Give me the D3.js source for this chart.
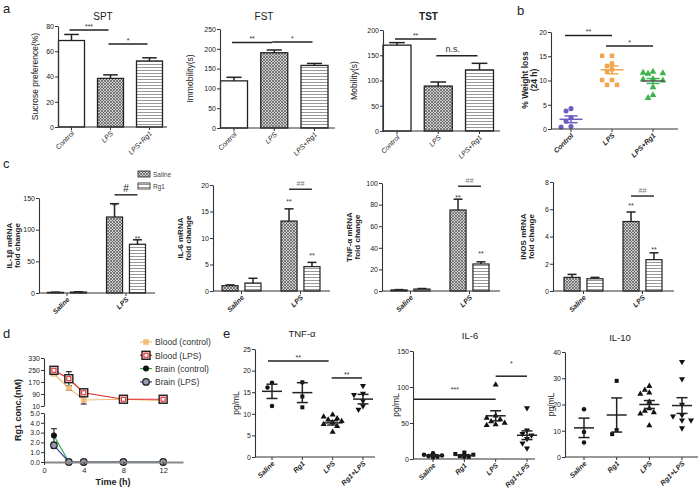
<!DOCTYPE html>
<html><head><meta charset="utf-8">
<script src="https://cdn.jsdelivr.net/npm/d3@7/dist/d3.min.js"></script>
<style>
body{margin:0;background:#fff}
svg{display:block}
</style></head>
<body>
<svg id="chart" width="700" height="496"></svg>
<script>
const FONT = "'Liberation Sans', Arial, Helvetica, sans-serif";

// ---------- Panel a data ----------
const aGroups = ["Control", "LPS", "LPS+Rg1"];
const sptMean = [68.5, 38.5, 52.3];
const sptErr  = [4.8, 2.8, 2.5];
const sptTicks = [0, 20, 40, 60, 80];
const fstMean = [119, 190, 158];
const fstErr  = [9, 7, 5];
const fstTicks = [0, 50, 100, 150, 200, 250];
const tstMean = [170, 89, 121];
const tstErr  = [5, 8, 13];
const tstTicks = [0, 50, 100, 150, 200];
const sptSig = [[0, 1, 76.8, "***"], [1, 2, 65.7, "*"]];
const fstSig = [[0, 1, 216, "**"], [1, 2, 217, "*"]];
const tstSig = [[0, 1, 182, "**"], [1, 2, 149, "n.s."]];

// ---------- Panel b data ----------
const wlControl = [4.2, 3.7, 2.3, 1.6, 0.5, 0.4];
const wlLPS = [15.1, 15.1, 13.5, 13.0, 12.3, 11.8, 10.1, 10.1, 9.1, 9.1];
const wlRg1 = [11.8, 11.6, 11.5, 11.4, 10.3, 10.2, 10.0, 8.6, 7.0, 6.4];
const wlMean = [2.0, 12.2, 9.9];
const wlSem = [0.7, 0.8, 0.5];
const wlTicks = [0, 5, 10, 15, 20];
const wlSig = [[0, 1, 19.3, "**"], [1, 2, 17.1, "*"]];

// ---------- Panel c data ----------
const cGroups = ["Saline", "LPS"];
const cSeries = ["Saline", "Rg1"];
const il1bSal = [1.0, 120], il1bSalErr = [0.3, 21];
const il1bRg1 = [1.5, 77],  il1bRg1Err = [0.4, 7];
const il6Sal  = [1.0, 13.2], il6SalErr = [0.15, 2.3];
const il6Rg1  = [1.5, 4.6],  il6Rg1Err = [0.9, 0.8];
const tnfSal  = [1.0, 75],   tnfSalErr = [0.3, 10];
const tnfRg1  = [1.8, 25],   tnfRg1Err = [0.5, 2];
const inosSal = [1.0, 5.1],  inosSalErr = [0.22, 0.7];
const inosRg1 = [0.9, 2.3],  inosRg1Err = [0.1, 0.5];
const il1bTicks = [0, 50, 100, 150];
const il6Ticks = [0, 5, 10, 15, 20];
const tnfTicks = [0, 20, 40, 60, 80, 100];
const inosTicks = [0, 2, 4, 6, 8];

// ---------- Panel d data ----------
const dTimes = [1, 2.5, 4, 8, 12];
const bloodCtrl = [225, 130, 50, 55, 45], bloodCtrlErr = [12, 15, 27, 8, 12];
const bloodLPS  = [248, 192, 98, 55, 55], bloodLPSErr  = [25, 47, 12, 10, 8];
const brainCtrl = [2.7, 0, 0, 0, 0], brainCtrlErr = [0.7, 0, 0, 0, 0];
const brainLPS  = [1.7, 0, 0, 0, 0], brainLPSErr  = [0.3, 0, 0, 0, 0];
const dUpperTicks = [10, 90, 170, 250, 330];
const dLowerTicks = [0, 1, 2, 3, 4, 5];
const dXTicks = [0, 4, 8, 12];

// ---------- Panel e data ----------
const eGroups = ["Saline", "Rg1", "LPS", "Rg1+LPS"];
const eTnfPts = [[17.2, 16.1, 11.8], [17.3, 14.0, 11.5],
  [9.8, 9.3, 8.9, 8.6, 8.3, 8.0, 7.6, 7.1, 5.8], [16.5, 14.7, 14.4, 13.0, 11.8, 11.0]];
const eTnfMean = [15.2, 14.9, 7.9, 13.4], eTnfSem = [1.65, 2.3, 0.5, 1.1];
const eIl6Pts = [[8, 6, 5, 4, 3, 2], [9, 7, 6, 4, 3, 3],
  [103, 60, 57, 55, 52, 50, 48, 47], [71, 40, 35, 33, 28, 22, 15]];
const eIl6Mean = [5, 5, 60, 33], eIl6Sem = [1, 1, 7, 6];
const eIl10Pts = [[18.2, 9.5, 5.5], [29, 10.3, 8.7],
  [27, 25.5, 24.5, 24, 21, 18.5, 17.5, 17, 16.5, 12], [36.3, 29.7, 20, 16, 15.5, 14, 14, 11]];
const eIl10Mean = [11.1, 16, 20, 19.6], eIl10Sem = [3.7, 6.5, 1.5, 3];
const eTnfTicks = [0, 5, 10, 15, 20, 25];
const eIl6Ticks = [0, 50, 100, 150];
const eIl10Ticks = [0, 10, 20, 30, 40];

// ================= drawing =================
const svg = d3.select("#chart");
const defs = svg.append("defs");
const ph = defs.append("pattern").attr("id", "xh").attr("patternUnits", "userSpaceOnUse").attr("width", 3).attr("height", 3);
ph.append("rect").attr("width", 3).attr("height", 3).attr("fill", "#cfcfcf");
ph.append("path").attr("d", "M0,0L3,3M3,0L0,3").attr("stroke", "#555").attr("stroke-width", 0.7);
const ps = defs.append("pattern").attr("id", "hs").attr("patternUnits", "userSpaceOnUse").attr("width", 4).attr("height", 3);
ps.append("rect").attr("width", 4).attr("height", 3).attr("fill", "#fff");
ps.append("rect").attr("y", 1).attr("width", 4).attr("height", 1).attr("fill", "#999");

function text(g, x, y, s, o = {}) {
  const t = g.append("text").attr("x", x).attr("y", y).text(s)
    .attr("font-family", FONT).attr("font-size", o.fs || 8)
    .attr("fill", o.fill || "#222").attr("text-anchor", o.anchor || "middle");
  if (o.bold) t.attr("font-weight", "bold");
  if (o.italic) t.attr("font-style", "italic");
  if (o.rot) t.attr("transform", `rotate(${o.rot},${x},${y})`);
  return t;
}

function yAxis(g, y, x, ticks, fs = 7) {
  const ax = g.append("g").attr("transform", `translate(${x},0)`)
    .call(d3.axisLeft(y).tickValues(ticks).tickSize(3).tickSizeOuter(0));
  ax.attr("font-family", FONT).attr("font-size", fs);
  ax.select(".domain").attr("stroke", "#333").attr("stroke-width", 1.1);
  ax.selectAll(".tick line").attr("stroke", "#333");
  ax.selectAll(".tick text").attr("fill", "#222").attr("x", -4);
  return ax;
}

function xAxis(g, x, yPos, x0, x1, o = {}) {
  g.append("line").attr("x1", x0).attr("x2", x1).attr("y1", yPos).attr("y2", yPos)
    .attr("stroke", o.stroke || "#333").attr("stroke-width", o.sw || 1.1);
  g.selectAll(null).data(x.domain()).join("line")
    .attr("x1", d => x(d)).attr("x2", d => x(d)).attr("y1", yPos).attr("y2", yPos + 3)
    .attr("stroke", "#333");
  g.selectAll(null).data(x.domain()).join("text")
    .attr("transform", d => `translate(${x(d) + 3},${yPos + 7}) rotate(-45)`)
    .attr("text-anchor", "end").attr("font-family", FONT).attr("font-size", o.fs || 7)
    .attr("font-style", "italic").attr("font-weight", o.bold ? "bold" : "normal")
    .attr("fill", "#222").text(d => d);
}

function sigLine(g, xa, xb, yv, label, o = {}) {
  g.append("line").attr("x1", xa).attr("x2", xb).attr("y1", yv).attr("y2", yv)
    .attr("stroke", "#222").attr("stroke-width", o.sw || 1.5);
  text(g, (xa + xb) / 2 + (o.tdx || 0), yv - (o.tdy || 2), label, { fs: o.fs || 7, fill: o.fill || "#333" });
}

// ---------- panel a ----------
const fills = ["#fff", "url(#xh)", "url(#hs)"];
function barPanel(c) {
  const g = svg.append("g");
  const y = d3.scaleLinear().domain([0, c.ymax]).range([c.y1, c.y0]);
  const x = d3.scalePoint().domain(aGroups).range(c.cx);
  g.selectAll(null).data(c.mean).join("line")
    .attr("x1", (d, i) => x(aGroups[i])).attr("x2", (d, i) => x(aGroups[i]))
    .attr("y1", d => y(d)).attr("y2", (d, i) => y(d + c.err[i])).attr("stroke", "#222").attr("stroke-width", 1.5);
  g.selectAll(null).data(c.mean).join("line")
    .attr("x1", (d, i) => x(aGroups[i]) - c.bw * 0.28).attr("x2", (d, i) => x(aGroups[i]) + c.bw * 0.28)
    .attr("y1", (d, i) => y(d + c.err[i])).attr("y2", (d, i) => y(d + c.err[i])).attr("stroke", "#222").attr("stroke-width", 1.5);
  g.selectAll(null).data(c.mean).join("rect")
    .attr("x", (d, i) => x(aGroups[i]) - c.bw / 2).attr("width", c.bw)
    .attr("y", d => y(d)).attr("height", d => y(0) - y(d))
    .attr("fill", (d, i) => fills[i]).attr("stroke", "#222").attr("stroke-width", 1.3);
  yAxis(g, y, c.ax, c.ticks);
  xAxis(g, x, c.y1, c.ax, c.xEnd);
  c.sig.forEach(s => {
    const big = s[3] === "n.s.";
    sigLine(g, x(aGroups[s[0]]) - 2, x(aGroups[s[1]]) - 2, y(s[2]), s[3],
      big ? { fs: 9, tdy: 4, tdx: -4 } : { fs: 7, tdy: 1 });
  });
  text(g, c.tx, c.ty, c.title, { fs: 10, bold: c.boldTitle });
  text(g, c.lx, (c.y0 + c.y1) / 2, c.ylabel, { fs: 8.5, rot: -90 });
}
barPanel({ ax: 58, xEnd: 167, y0: 26, y1: 127, cx: [71.5, 149.5], bw: 26, ymax: 80, ticks: sptTicks,
  mean: sptMean, err: sptErr, sig: sptSig, title: "SPT", tx: 103, ty: 20, ylabel: "Sucrose preference(%)", lx: 38 });
barPanel({ ax: 220, xEnd: 335, y0: 29, y1: 128, cx: [234, 314.5], bw: 27, ymax: 250, ticks: fstTicks,
  mean: fstMean, err: fstErr, sig: fstSig, title: "FST", tx: 264, ty: 20, ylabel: "Immobility(s)", lx: 193 });
barPanel({ ax: 383, xEnd: 500, y0: 30, y1: 131, cx: [397, 479.5], bw: 28, ymax: 200, ticks: tstTicks,
  mean: tstMean, err: tstErr, sig: tstSig, title: "TST", tx: 428.5, ty: 20, boldTitle: true, ylabel: "Mobility(s)", lx: 357 });

// panel labels
text(svg, 3, 13, "a", { fs: 13, anchor: "start" });
text(svg, 517, 15, "b", { fs: 13, anchor: "start" });
text(svg, 3, 168, "c", { fs: 13, anchor: "start" });
text(svg, 3, 338, "d", { fs: 13, anchor: "start" });
text(svg, 223, 338, "e", { fs: 13, anchor: "start" });

// ---------- swarm helper (layout of dots around a category) ----------
function swarm(vals, y, d, maxOff) {
  const placed = [], off = new Array(vals.length);
  const idx = vals.map((v, i) => i).sort((a, b) => vals[b] - vals[a]);
  const step = d * 0.9;
  const cands = [0];
  for (let k = 1; k * step <= maxOff + 0.01; k++) cands.push(-k * step, k * step);
  idx.forEach(i => {
    const py = y(vals[i]);
    let best = null, bestDist = -1;
    for (const o of cands) {
      const md = placed.length ? d3.min(placed, p => Math.hypot(p[0] - o, p[1] - py)) : Infinity;
      if (md >= d) { best = o; break; }
      if (md > bestDist) { bestDist = md; best = o; }
    }
    off[i] = best; placed.push([best, py]);
  });
  return off;
}

function dotGroup(g, x, y, key, vals, mean, sem, o) {
  const offs = swarm(vals, y, o.spread, o.maxOff || 12);
  const sym = d3.symbol().type(o.sym).size(o.size);
  g.selectAll(null).data(vals).join("path")
    .attr("d", sym).attr("transform", (d, i) => `translate(${x(key) + offs[i]},${y(d)})${o.flip ? " rotate(180)" : ""}`)
    .attr("fill", o.color);
  const cx = x(key);
  g.append("line").attr("x1", cx).attr("x2", cx).attr("y1", y(mean + sem)).attr("y2", y(mean - sem)).attr("stroke", o.lineColor).attr("stroke-width", 1.5);
  [mean + sem, mean - sem].forEach(v => g.append("line").attr("x1", cx - o.capW / 2).attr("x2", cx + o.capW / 2)
    .attr("y1", y(v)).attr("y2", y(v)).attr("stroke", o.lineColor).attr("stroke-width", 1.5));
  g.append("line").attr("x1", cx - o.meanW / 2).attr("x2", cx + o.meanW / 2)
    .attr("y1", y(mean)).attr("y2", y(mean)).attr("stroke", o.meanColor || o.lineColor).attr("stroke-width", 1.5);
}

// ---------- panel b ----------
(function () {
  const g = svg.append("g");
  const y = d3.scaleLinear().domain([0, 20]).range([129, 32]);
  const x = d3.scalePoint().domain(aGroups).range([571, 653]);
  const cols = ["#6a5cc0", "#f0a54e", "#3cb44b"];
  const syms = [d3.symbolCircle, d3.symbolSquare, d3.symbolTriangle];
  [wlControl, wlLPS, wlRg1].forEach((vals, i) => dotGroup(g, x, y, aGroups[i], vals, wlMean[i], wlSem[i],
    { sym: syms[i], size: 20, color: cols[i], lineColor: cols[i], meanColor: i === 2 ? "#555" : cols[i], spread: 5.5, capW: 13, meanW: 23, maxOff: 12 }));
  yAxis(g, y, 551, wlTicks);
  xAxis(g, x, 129, 551, 678, { bold: true });
  wlSig.forEach(s => sigLine(g, x(aGroups[s[0]]) - 6, x(aGroups[s[1]]), y(s[2]), s[3], { fs: 7, tdy: 1 }));
  text(g, 528, 80, "% Weight loss", { fs: 8.5, bold: true, rot: -90 });
  text(g, 537, 80, "(24 h)", { fs: 8.5, bold: true, rot: -90 });
})();

// ---------- panel c ----------
function cPanel(c) {
  const g = svg.append("g");
  const y = d3.scaleLinear().domain([0, c.ymax]).range([c.y1, c.y0]);
  const x0 = d3.scalePoint().domain(cGroups).range([c.ax + c.off, c.ax + c.off + 59]);
  const x1 = d3.scaleBand().domain(cSeries).range([-19.5, 19.5]).paddingInner(0.3);
  const bw = x1.bandwidth();
  const series = [[c.sal, c.salErr, "url(#xh)"], [c.rg1, c.rg1Err, "url(#hs)"]];
  series.forEach(([vals, errs, fill], si) => {
    const sx = (i) => x0(cGroups[i]) + x1(cSeries[si]);
    g.selectAll(null).data(vals).join("line")
      .attr("x1", (d, i) => sx(i) + bw / 2).attr("x2", (d, i) => sx(i) + bw / 2)
      .attr("y1", d => y(d)).attr("y2", (d, i) => y(d + errs[i])).attr("stroke", "#222").attr("stroke-width", 1.5);
    g.selectAll(null).data(vals).join("line")
      .attr("x1", (d, i) => sx(i) + bw * 0.22).attr("x2", (d, i) => sx(i) + bw * 0.78)
      .attr("y1", (d, i) => y(d + errs[i])).attr("y2", (d, i) => y(d + errs[i])).attr("stroke", "#222").attr("stroke-width", 1.5);
    g.selectAll(null).data(vals).join("rect")
      .attr("x", (d, i) => sx(i)).attr("width", bw)
      .attr("y", d => y(d)).attr("height", d => y(0) - y(d))
      .attr("fill", fill).attr("stroke", "#222").attr("stroke-width", 1.2);
    text(g, sx(1) + bw / 2, y(vals[1] + errs[1]) + c.starDy[si], "**", { fs: 7, fill: "#333" });
  });
  yAxis(g, y, c.ax, c.ticks);
  xAxis(g, x0, c.y1, c.ax, c.xEnd, { bold: true });
  const la = x0("LPS") + x1("Saline") + bw / 2, lb = x0("LPS") + x1("Rg1") + bw / 2;
  g.append("line").attr("x1", la).attr("x2", lb).attr("y1", y(c.hashV)).attr("y2", y(c.hashV)).attr("stroke", "#222").attr("stroke-width", 1.4);
  text(g, (la + lb) / 2, y(c.hashV) - 3, c.hash, { fs: c.hash === "#" ? 10 : 7, fill: c.hash === "#" ? "#222" : "#777", italic: c.hash !== "#" });
  text(g, c.lx1, (c.y0 + c.y1) / 2, c.l1, { fs: 8, bold: true, rot: -90 });
  text(g, c.lx2, (c.y0 + c.y1) / 2, "fold change", { fs: 8, bold: true, rot: -90 });
  return g;
}
const c1 = cPanel({ ax: 39, off: 28, xEnd: 155, y0: 198, y1: 293, ymax: 150, ticks: il1bTicks,
  sal: il1bSal, salErr: il1bSalErr, rg1: il1bRg1, rg1Err: il1bRg1Err, hashV: 155, hash: "#",
  l1: "IL-1β mRNA", lx1: 12, lx2: 20, starDy: [4, 1] });
cPanel({ ax: 213, off: 28.5, xEnd: 330, y0: 185, y1: 291, ymax: 20, ticks: il6Ticks,
  sal: il6Sal, salErr: il6SalErr, rg1: il6Rg1, rg1Err: il6Rg1Err, hashV: 19.2, hash: "##",
  l1: "IL-6 mRNA", lx1: 183, lx2: 191, starDy: [-5, -4] });
cPanel({ ax: 382, off: 28.5, xEnd: 500, y0: 183, y1: 291, ymax: 100, ticks: tnfTicks,
  sal: tnfSal, salErr: tnfSalErr, rg1: tnfRg1, rg1Err: tnfRg1Err, hashV: 97, hash: "##",
  l1: "TNF-α mRNA", lx1: 352, lx2: 360, starDy: [1, -6] });
cPanel({ ax: 553, off: 30.5, xEnd: 674, y0: 182, y1: 291, ymax: 8, ticks: inosTicks,
  sal: inosSal, salErr: inosSalErr, rg1: inosRg1, rg1Err: inosRg1Err, hashV: 6.97, hash: "##",
  l1: "iNOS mRNA", lx1: 526, lx2: 534, starDy: [-4, -1] });
[["url(#xh)", "Saline"], ["url(#hs)", "Rg1"]].forEach(([f, s], i) => {
  c1.append("rect").attr("x", 138).attr("y", 171 + i * 12).attr("width", 12).attr("height", 6)
    .attr("fill", f).attr("stroke", "#222").attr("stroke-width", 0.8);
  text(c1, 153, 177 + i * 12, s, { fs: 6.5, anchor: "start", fill: "#444" });
});

// ---------- panel d ----------
(function () {
  const g = svg.append("g");
  const x = d3.scaleLinear().domain([0, 14]).range([44, 183]);
  const yU = d3.scaleLinear().domain([10, 330]).range([406, 358]);
  const yL = d3.scaleLinear().domain([0, 5]).range([462, 413]);
  const series = [
    { vals: bloodCtrl, err: bloodCtrlErr, y: yU, color: "#f2bd79", mk: "sq", name: "Blood (control)" },
    { vals: bloodLPS, err: bloodLPSErr, y: yU, color: "#e3262b", mk: "osq", name: "Blood (LPS)" },
    { vals: brainCtrl, err: brainCtrlErr, y: yL, color: "#2daa4a", mk: "dot", name: "Brain (control)" },
    { vals: brainLPS, err: brainLPSErr, y: yL, color: "#3a3aa6", mk: "ocirc", name: "Brain (LPS)" }];
  function marker(gg, mk, color) {
    if (mk === "sq") gg.append("rect").attr("x", -2.8).attr("y", -2.8).attr("width", 5.6).attr("height", 5.6).attr("fill", color);
    if (mk === "osq") {
      gg.append("rect").attr("x", -4).attr("y", -4).attr("width", 8).attr("height", 8).attr("fill", "#f7d0d0").attr("stroke", "#222").attr("stroke-width", 1.4);
      gg.append("rect").attr("x", -2).attr("y", -2).attr("width", 4).attr("height", 4).attr("fill", "#fff").attr("stroke", color).attr("stroke-width", 1);
    }
    if (mk === "dot") gg.append("circle").attr("r", 3).attr("fill", "#111");
    if (mk === "ocirc") gg.append("circle").attr("r", 3.3).attr("fill", "#9a9ab0").attr("stroke", "#222").attr("stroke-width", 1.2);
  }
  series.forEach(s => {
    const line = d3.line().x((d, i) => x(dTimes[i])).y(d => s.y(d));
    g.append("path").attr("d", line(s.vals)).attr("fill", "none").attr("stroke", s.color).attr("stroke-width", 1.2);
  });
  series.forEach(s => {
    s.vals.forEach((v, i) => {
      if (s.err[i] > 0) {
        const cx = x(dTimes[i]);
        g.append("line").attr("x1", cx).attr("x2", cx).attr("y1", s.y(v - s.err[i])).attr("y2", s.y(v + s.err[i])).attr("stroke", "#222").attr("stroke-width", 1.1);
        [v - s.err[i], v + s.err[i]].forEach(e => g.append("line").attr("x1", cx - 3).attr("x2", cx + 3).attr("y1", s.y(e)).attr("y2", s.y(e)).attr("stroke", "#222").attr("stroke-width", 1.1));
      }
    });
  });
  series.forEach(s => {
    s.vals.forEach((v, i) => marker(g.append("g").attr("transform", `translate(${x(dTimes[i])},${s.y(v)})`), s.mk, s.color));
  });
  yAxis(g, yU, 44, dUpperTicks);
  yAxis(g, yL, 44, dLowerTicks);
  const xa = g.append("g").attr("transform", "translate(0,462)")
    .call(d3.axisBottom(x).tickValues(dXTicks).tickSize(3).tickSizeOuter(0));
  xa.attr("font-family", FONT).attr("font-size", 7.5);
  xa.select(".domain").attr("stroke", "#888").attr("stroke-width", 2);
  xa.selectAll(".tick line").attr("stroke", "#333");
  xa.selectAll(".tick text").attr("fill", "#222");
  text(g, 113, 485, "Time (h)", { fs: 9, bold: true });
  text(g, 21, 410, "Rg1 conc.(nM)", { fs: 9, bold: true, rot: -90 });
  series.forEach((s, i) => {
    const ly = 342 + i * 13.3;
    g.append("line").attr("x1", 140).attr("x2", 152).attr("y1", ly).attr("y2", ly).attr("stroke", s.color).attr("stroke-width", 1.2);
    marker(g.append("g").attr("transform", `translate(146,${ly})`), s.mk, s.color);
    text(g, 155, ly + 3.2, s.name, { fs: 8.6, anchor: "start", fill: "#333" });
  });
})();

// ---------- panel e ----------
function ePanel(c) {
  const g = svg.append("g");
  const y = d3.scaleLinear().domain([0, c.ymax]).range([c.y1, c.y0]);
  const x = d3.scalePoint().domain(eGroups).range(c.cx);
  const syms = [[d3.symbolCircle, false], [d3.symbolSquare, false], [d3.symbolTriangle, false], [d3.symbolTriangle, true]];
  c.pts.forEach((vals, i) => dotGroup(g, x, y, eGroups[i], vals, c.mean[i], c.sem[i],
    { sym: syms[i][0], flip: syms[i][1], size: 16, color: "#111", lineColor: "#222", spread: 5, capW: 11, meanW: 20, maxOff: 9 }));
  yAxis(g, y, c.ax, c.ticks);
  xAxis(g, x, c.y1, c.ax, c.xEnd, { bold: true });
  c.sig.forEach(s => {
    const yl = y(s[2]);
    g.append("line").attr("x1", x(eGroups[s[0]]) + s[3]).attr("x2", x(eGroups[s[1]]) + s[4])
      .attr("y1", yl).attr("y2", yl).attr("stroke", "#222").attr("stroke-width", 1.5);
    text(g, (x(eGroups[s[0]]) + s[3] + x(eGroups[s[1]]) + s[4]) / 2, yl - s[6], s[5], { fs: 7, fill: "#333" });
  });
  text(g, c.tx, c.ty, c.title, { fs: 9.5 });
  text(g, c.lx, (c.y0 + c.y1) / 2, "pg/mL", { fs: 8.5, rot: -90 });
}
ePanel({ ax: 255, xEnd: 375, y0: 349, y1: 457, ymax: 25, ticks: eTnfTicks, cx: [272, 363],
  pts: eTnfPts, mean: eTnfMean, sem: eTnfSem, title: "TNF-α", tx: 302, ty: 337, lx: 239,
  sig: [[0, 2, 22.2, -4, -4, "**", 1], [2, 3, 18.3, -1, -1, "**", 1]] });
ePanel({ ax: 413, xEnd: 535, y0: 351, y1: 459, ymax: 150, ticks: eIl6Ticks, cx: [433, 527],
  pts: eIl6Pts, mean: eIl6Mean, sem: eIl6Sem, title: "IL-6", tx: 470, ty: 339, lx: 399,
  sig: [[0, 2, 83, -19, 0, "***", 7], [2, 3, 115, 0, 0, "*", 10]] });
ePanel({ ax: 565, xEnd: 698, y0: 352, y1: 457, ymax: 40, ticks: eIl10Ticks, cx: [584, 682],
  pts: eIl10Pts, mean: eIl10Mean, sem: eIl10Sem, title: "IL-10", tx: 620, ty: 341, lx: 554, sig: [] });
</script>
</body></html>
